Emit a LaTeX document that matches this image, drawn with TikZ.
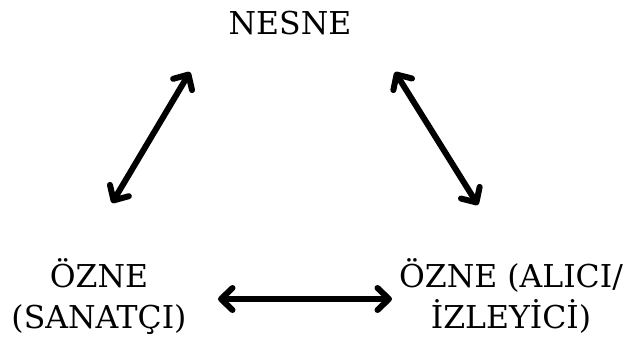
\documentclass[tikz,border=0pt]{standalone}
\usepackage{fontspec}
\setmainfont{DejaVu Serif}
\usetikzlibrary{arrows.meta}
\begin{document}
\begin{tikzpicture}[x=1pt,y=-1pt,
  label/.style={font=\fontsize{31.5}{41}\selectfont, inner sep=0pt, align=center, anchor=base},
  link/.style={line width=6pt, line cap=round,
    {Straight Barb[round,length=11.5pt,width=22pt]}-{Straight Barb[round,length=11.5pt,width=22pt]}}]
  \useasboundingbox[fill=white] (0,0) rectangle (630,341);

  % the three terms of the triangle (base anchor sits on the last line)
  \node[label] (nesne) at (290,34) {NESNE};
  \node[label] (sanatci) at (99,328) {ÖZNE\\(SANATÇI)};
  \node[label] (alici) at (511,328) {ÖZNE (ALICI/\\İZLEYİCİ)};

  % arrow ends
  \coordinate (l1) at (112,203);
  \coordinate (l2) at (190,72);
  \coordinate (r1) at (395,72);
  \coordinate (r2) at (478,205);
  \coordinate (b1) at (218,299);
  \coordinate (b2) at (392,299);

  \draw[link] (l1) -- (l2);
  \draw[link] (r1) -- (r2);
  \draw[link] (b1) -- (b2);
\end{tikzpicture}
\end{document}
